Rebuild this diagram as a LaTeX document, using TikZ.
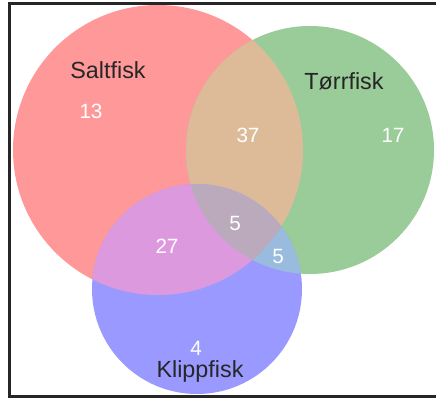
\documentclass[tikz,border=0pt]{standalone}
\usepackage{fontspec}
\setmainfont{Liberation Sans}
\definecolor{cred}{HTML}{FF9999}
\definecolor{cgreen}{HTML}{99CC99}
\definecolor{cblue}{HTML}{9999FF}
\definecolor{ctan}{HTML}{DDBB99}
\definecolor{cpurple}{HTML}{DD99DD}
\definecolor{clblue}{HTML}{99BBDD}
\definecolor{ccenter}{HTML}{BBAABB}
\begin{document}
\begin{tikzpicture}[x=0.75pt,y=-0.75pt,
  num/.style={text=white,font=\fontsize{15.5}{18}\selectfont},
  setlabel/.style={text=black!85,font=\fontsize{17.5}{20}\selectfont}]
\useasboundingbox (0,0) rectangle (436,398);
\fill[white] (0,0) rectangle (436,398);
\def\redc{(158,150) circle[radius=145]}
\def\greenc{(310,150) circle[radius=124]}
\def\bluec{(197,289) circle[radius=105]}
\fill[cred] \redc;
\fill[cgreen] \greenc;
\fill[cblue] \bluec;
\begin{scope}\clip \redc; \fill[ctan] \greenc; \end{scope}
\begin{scope}\clip \redc; \fill[cpurple] \bluec; \end{scope}
\begin{scope}\clip \greenc; \fill[clblue] \bluec; \end{scope}
\begin{scope}\clip \redc; \clip \greenc; \fill[ccenter] \bluec; \end{scope}
\coordinate (tr) at (436,3.5);
\coordinate (tl) at (9.5,3.5);
\coordinate (bl) at (9.5,396.5);
\coordinate (br) at (436,396.5);
\draw[line width=1.6pt,black!85] (tr) -- (tl) -- (bl) -- (br);
\node[setlabel] (salt) at (108,70) {Saltfisk};
\node[setlabel] (torr) at (344,81) {Tørrfisk};
\node[setlabel] (klipp) at (200,371) {Klippfisk};
\node[num] (n13) at (91,111) {13};
\node[num] (n37) at (248,135) {37};
\node[num] (n17) at (393,135) {17};
\node[num] (n5a) at (235,223) {5};
\node[num] (n27) at (167,246) {27};
\node[num] (n5b) at (278,256) {5};
\node[num] (n4) at (196,348) {4};
\end{tikzpicture}
\end{document}
